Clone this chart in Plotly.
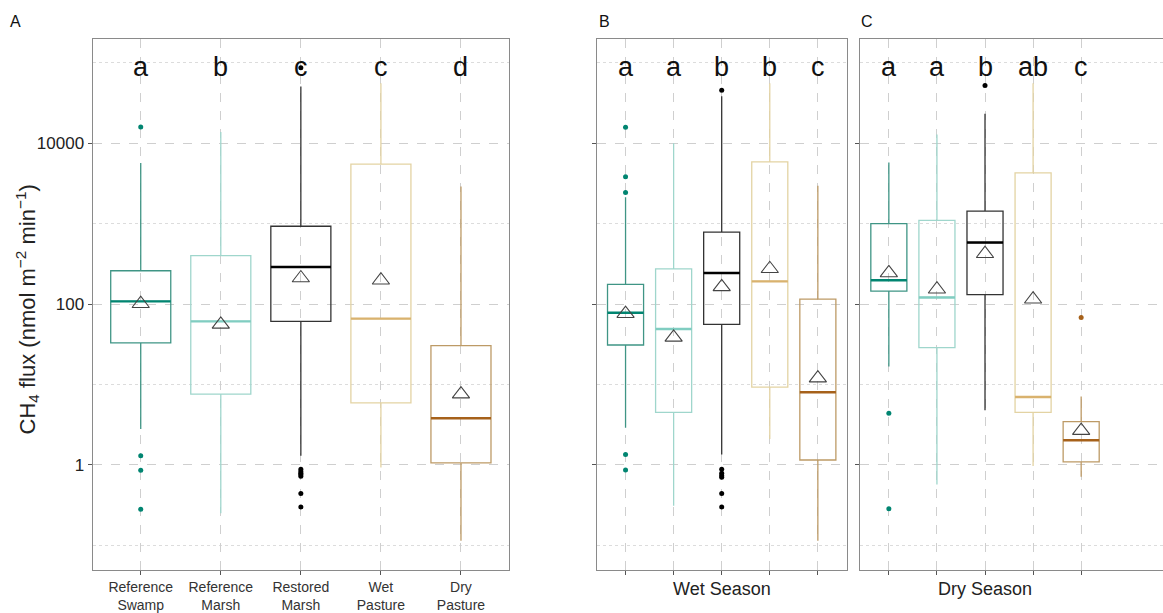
import math
import plotly.graph_objects as go

# ---------------- data ----------------
sites = ["Reference<br>Swamp", "Reference<br>Marsh", "Restored<br>Marsh", "Wet<br>Pasture", "Dry<br>Pasture"]

# Panel A: all data
A_low = [2.8, 0.25, 1.3, 0.93, 0.114]
A_q1 = [33, 7.6, 61, 5.9, 1.06]
A_med = [108, 61, 290, 66, 3.8]
A_q3 = [260, 400, 930, 5500, 30.5]
A_up = [5700, 13800, 51000, 56000, 2900]
A_mean = [101, 56, 211, 198, 7.6]
A_out = [[16000, 1.3, 0.86, 0.28], [], [87000, 0.88, 0.83, 0.79, 0.76, 0.72, 0.44, 0.30], [], []]
A_letters = ["a", "b", "c", "c", "d"]

# Panel B: wet season
B_low = [2.9, 0.31, 1.35, 2.1, 0.114]
B_q1 = [31, 4.5, 56, 9.3, 1.15]
B_med = [78, 49, 244, 192, 8.0]
B_q3 = [176, 275, 785, 5870, 115]
B_up = [2140, 10000, 38500, 56000, 2960]
B_mean = [76, 38.6, 164, 275, 12]
B_out = [[15800, 3830, 2450, 1.35, 0.865], [], [45700, 0.88, 0.79, 0.74, 0.70, 0.44, 0.30], [], []]
B_letters = ["a", "a", "b", "b", "c"]

# Panel C: dry season
C_low = [16.7, 0.57, 4.8, 0.97, 0.71]
C_q1 = [145, 28.8, 131, 4.5, 1.09]
C_med = [198, 121, 583, 7.0, 2.03]
C_q3 = [1000, 1100, 1430, 4290, 3.45]
C_up = [5770, 12900, 23300, 56000, 7.1]
C_mean = [244, 153, 423, 115, 2.67]
C_out = [[4.4, 0.284], [], [52200], [], [68]]
C_letters = ["a", "a", "b", "ab", "c"]

letter_y = 90000

box_colors = ["#3f9585", "#9fd6cc", "#333333", "#e3d3a3", "#bd9a66"]
med_colors = ["#018571", "#80cdc1", "#000000", "#d9b26e", "#a6611a"]
pt_colors = ["#018571", "#80cdc1", "#000000", "#dfc27d", "#a6611a"]

W, H = 1163, 613
BOXW = 0.75
FONT = "Liberation Sans, Arial"

panels = [
    dict(low=A_low, q1=A_q1, med=A_med, q3=A_q3, up=A_up, mean=A_mean, out=A_out, letters=A_letters,
         xa="x", ya="y", dom=(92.7, 509.0), xr=[0.4, 5.6]),
    dict(low=B_low, q1=B_q1, med=B_med, q3=B_q3, up=B_up, mean=B_mean, out=B_out, letters=B_letters,
         xa="x2", ya="y2", dom=(596.7, 846.7), xr=[0.4, 5.6]),
    dict(low=C_low, q1=C_q1, med=C_med, q3=C_q3, up=C_up, mean=C_mean, out=C_out, letters=C_letters,
         xa="x3", ya="y3", dom=(860.0, 1163.0), xr=[0.4, 0.4 + (1163.0 - 860.0) / 48.08]),
]

fig = go.Figure()
annotations = []

for p in panels:
    for i in range(5):
        xpos = i + 1
        fig.add_trace(go.Box(
            x=[xpos], q1=[p["q1"][i]], median=[p["med"][i]], q3=[p["q3"][i]],
            lowerfence=[p["low"][i]], upperfence=[p["up"][i]],
            width=BOXW, whiskerwidth=0, boxpoints=False,
            line=dict(color=box_colors[i], width=1.3), fillcolor="rgba(0,0,0,0)",
            xaxis=p["xa"], yaxis=p["ya"], showlegend=False, hoverinfo="skip"))
        # thicker median line
        fig.add_trace(go.Scatter(
            x=[xpos - BOXW / 2, xpos + BOXW / 2], y=[p["med"][i], p["med"][i]],
            mode="lines", line=dict(color=med_colors[i], width=2.4),
            xaxis=p["xa"], yaxis=p["ya"], showlegend=False, hoverinfo="skip"))
        if p["out"][i]:
            fig.add_trace(go.Scatter(
                x=[xpos] * len(p["out"][i]), y=p["out"][i], mode="markers",
                marker=dict(color=pt_colors[i], size=5),
                xaxis=p["xa"], yaxis=p["ya"], showlegend=False, hoverinfo="skip"))
        annotations.append(dict(
            x=xpos, y=math.log10(letter_y), xref=p["xa"], yref=p["ya"],
            text=p["letters"][i], showarrow=False,
            font=dict(size=27, color="#111111", family=FONT),
            xanchor="center", yanchor="middle"))
    fig.add_trace(go.Scatter(
        x=list(range(1, 6)), y=p["mean"], mode="markers",
        marker=dict(symbol="triangle-up-open", size=15, color="#444444", line=dict(width=1.1)),
        xaxis=p["xa"], yaxis=p["ya"], showlegend=False, hoverinfo="skip"))

grid_major = "#cfcfcf"
grid_minor = "#dcdcdc"
line_col = "#8a8a8a"
yrange = [-1.306, 5.296]
ydom = [1 - 572.7 / H, 1 - 39.3 / H]

def xaxis_cfg(p, labels, mirror):
    cfg = dict(
        domain=[p["dom"][0] / W, min(p["dom"][1] / W, 1.0)], range=p["xr"], anchor=p["ya"],
        tickmode="array", tickvals=[1, 2, 3, 4, 5],
        showticklabels=labels, ticks="outside", ticklen=4, tickcolor="#555555",
        showgrid=True, gridcolor=grid_major, griddash="dash", gridwidth=1.2,
        showline=True, linecolor=line_col, linewidth=1.3, mirror=mirror, zeroline=False,
        tickfont=dict(size=14, color="#333333", family=FONT))
    if labels:
        cfg["ticktext"] = sites
    return cfg

def yaxis_cfg(p, labels, mirror):
    cfg = dict(
        domain=ydom, type="log", range=yrange, anchor=p["xa"],
        tickmode="array", tickvals=[1, 100, 10000],
        showticklabels=labels, ticks="outside", ticklen=4, tickcolor="#555555",
        showgrid=True, gridcolor=grid_major, griddash="dash", gridwidth=1.3,
        minor=dict(tickmode="array", tickvals=[0.1, 10, 1000, 100000], showgrid=True,
                   gridcolor=grid_minor, griddash="dot", gridwidth=1.2, ticks=""),
        showline=True, linecolor=line_col, linewidth=1.3, mirror=mirror, zeroline=False,
        tickfont=dict(size=17, color="#222222", family=FONT))
    if labels:
        cfg["ticktext"] = ["1", "100", "10000"]
    return cfg

fig.update_layout(
    xaxis=xaxis_cfg(panels[0], True, True),
    xaxis2=xaxis_cfg(panels[1], False, True),
    xaxis3=xaxis_cfg(panels[2], False, True),
    yaxis=yaxis_cfg(panels[0], True, True),
    yaxis2=yaxis_cfg(panels[1], False, True),
    yaxis3=yaxis_cfg(panels[2], False, False),
)

# panel tags and titles
for tag, xp in [("A", 15), ("B", 604), ("C", 867)]:
    annotations.append(dict(x=xp / W, y=1 - 22 / H, xref="paper", yref="paper", text=tag,
                            xanchor="center", yanchor="middle", showarrow=False,
                            font=dict(size=16, color="#111111", family=FONT)))
for title, xp in [("Wet Season", 722), ("Dry Season", 985)]:
    annotations.append(dict(x=xp / W, y=1 - 592 / H, xref="paper", yref="paper", text=title,
                            xanchor="center", yanchor="middle", showarrow=False,
                            font=dict(size=18, color="#222222", family=FONT)))
annotations.append(dict(x=27 / W, y=1 - 311 / H, xref="paper", yref="paper",
                        text="CH<sub>4</sub> flux (nmol m<sup>\u22122</sup> min<sup>\u22121</sup>)",
                        textangle=-90, xanchor="center", yanchor="middle", showarrow=False,
                        font=dict(size=22, color="#222222", family=FONT)))

fig.update_layout(
    width=W, height=H, margin=dict(l=0, r=0, t=0, b=0),
    paper_bgcolor="white", plot_bgcolor="white",
    annotations=annotations, showlegend=False)

fig.write_html("out.html")
